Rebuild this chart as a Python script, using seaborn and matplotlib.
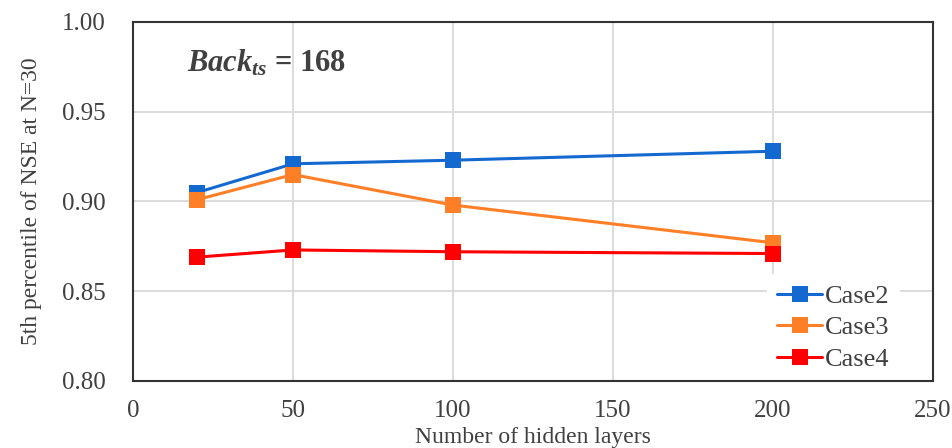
import matplotlib
matplotlib.use('Agg')
import matplotlib.pyplot as plt
from matplotlib.ticker import FormatStrFormatter
import numpy as np
import pandas as pd
import seaborn as sns

# values
hidden_layers = [20, 50, 100, 200]
case2 = [0.905, 0.921, 0.923, 0.928]
case3 = [0.901, 0.915, 0.898, 0.877]
case4 = [0.869, 0.873, 0.872, 0.871]
case_names = ['Case2', 'Case3', 'Case4']
case_colors = ['#1469D0', '#FF7F27', '#FF0000']

sns.set_style('white')
plt.rcParams['font.family'] = ['Liberation Serif', 'DejaVu Serif']
plt.rcParams['mathtext.fontset'] = 'custom'
plt.rcParams['mathtext.it'] = 'Liberation Serif:italic:bold'
plt.rcParams['mathtext.rm'] = 'Liberation Serif:bold'

df = pd.DataFrame({
    'layers': hidden_layers * 3,
    'nse': case2 + case3 + case4,
    'case': np.repeat(case_names, len(hidden_layers)),
})

fig = plt.figure(figsize=(9.53, 4.48), dpi=100)
ax = fig.add_axes([0.1396, 0.1496, 0.8394, 0.8013])

sns.lineplot(data=df, x='layers', y='nse', hue='case', style='case',
             palette=case_colors, markers=['s', 's', 's'], dashes=False,
             markersize=11, linewidth=2.2, markeredgewidth=0, ax=ax)

ax.set_xlim(0, 250)
ax.set_ylim(0.80, 1.00)
ax.set_xticks(np.arange(0, 251, 50))
ax.set_yticks(np.arange(0.80, 1.001, 0.05))
ax.yaxis.set_major_formatter(FormatStrFormatter('%.2f'))
ax.grid(True, color='#d9d9d9', linewidth=1.3)
ax.set_axisbelow(True)

txt = '#404040'
for s in ax.spines.values():
    s.set_color('#333333')
    s.set_linewidth(1.5)
    s.set_zorder(10)
ax.tick_params(direction='in', length=4, width=1.2, colors='#333333',
               labelsize=18, labelcolor=txt)
ax.tick_params(axis='y', pad=20)
ax.tick_params(axis='x', pad=14)

ax.set_xlabel('Number of hidden layers', fontsize=17, color=txt, labelpad=3)
ax.set_ylabel('5th percentile of NSE at N=30', fontsize=17, color=txt, labelpad=14)

ax.text(17, 0.977, r'$Back_{ts}$ = 168', fontsize=22, fontweight='bold',
        color=txt, va='center', ha='left')

leg = ax.legend(loc='lower right', bbox_to_anchor=(0.975, -0.038), frameon=True,
                fontsize=19, handlelength=1.7, handletextpad=0.1,
                labelspacing=0.3, borderpad=0.4)
leg.get_frame().set_edgecolor('none')
leg.get_frame().set_facecolor('white')
leg.get_frame().set_alpha(1)
for t in leg.get_texts():
    t.set_color(txt)

fig.savefig('out.png', dpi=100)
